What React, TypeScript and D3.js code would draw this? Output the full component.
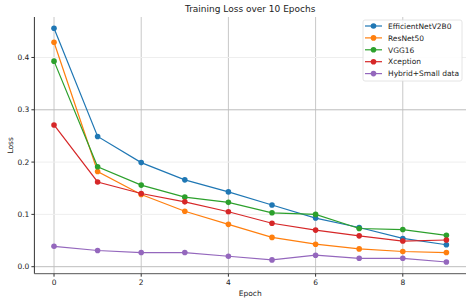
import * as d3 from "d3";
import React, { useEffect, useRef } from "react";

const epochs = [0, 1, 2, 3, 4, 5, 6, 7, 8, 9];
const seriesNames = ["EfficientNetV2B0", "ResNet50", "VGG16", "Xception", "Hybrid+Small data"];
const colors = ["#1f77b4", "#ff7f0e", "#2ca02c", "#d62728", "#9467bd"];
const efficientNet = [0.456, 0.249, 0.199, 0.166, 0.143, 0.118, 0.093, 0.075, 0.054, 0.042];
const resNet = [0.429, 0.182, 0.138, 0.106, 0.081, 0.056, 0.043, 0.034, 0.029, 0.027];
const vgg = [0.393, 0.191, 0.156, 0.133, 0.123, 0.103, 0.1, 0.073, 0.071, 0.06];
const xception = [0.271, 0.162, 0.14, 0.124, 0.105, 0.083, 0.07, 0.059, 0.049, 0.051];
const hybrid = [0.039, 0.031, 0.027, 0.027, 0.02, 0.013, 0.022, 0.016, 0.016, 0.009];
const xTicks = [0, 2, 4, 6, 8];
const yTicks = [0, 0.1, 0.2, 0.3, 0.4];

const App = () => {
  const svgRef = useRef(null);

  useEffect(() => {
    const svg = d3.select(svgRef.current);
    svg.selectAll("*").remove();

    const W = 471;
    const H = 303;
    const left = 34.4;
    const right = 466;
    const top = 17;
    const bottom = 273.7;
    const font = "DejaVu Sans, sans-serif";

    const x = d3.scaleLinear().domain([-0.45, 9.45]).range([left, right]);
    const y = d3.scaleLinear().domain([-0.0134, 0.4774]).range([bottom, top]);

    svg.attr("width", W).attr("height", H).style("background", "#fff");

    // grid
    svg
      .append("g")
      .selectAll("line")
      .data(xTicks)
      .join("line")
      .attr("x1", (d) => x(d))
      .attr("x2", (d) => x(d))
      .attr("y1", top)
      .attr("y2", bottom)
      .attr("stroke", "#c8c8c8")
      .attr("stroke-width", 1);

    svg
      .append("g")
      .selectAll("line")
      .data(yTicks)
      .join("line")
      .attr("x1", left)
      .attr("x2", right)
      .attr("y1", (d) => y(d))
      .attr("y2", (d) => y(d))
      .attr("stroke", (d) => (d === 0 || d === 0.3 ? "#bdbdbd" : "#eeeeee"))
      .attr("stroke-width", 1);

    // spines
    svg
      .append("line")
      .attr("x1", left)
      .attr("x2", left)
      .attr("y1", top)
      .attr("y2", bottom)
      .attr("stroke", "#333")
      .attr("stroke-width", 1);
    svg
      .append("line")
      .attr("x1", left)
      .attr("x2", right)
      .attr("y1", bottom)
      .attr("y2", bottom)
      .attr("stroke", "#555")
      .attr("stroke-width", 1);

    // ticks
    const xt = svg.append("g").selectAll("g").data(xTicks).join("g");
    xt.append("line")
      .attr("x1", (d) => x(d))
      .attr("x2", (d) => x(d))
      .attr("y1", bottom)
      .attr("y2", bottom + 3)
      .attr("stroke", "#333");
    xt.append("text")
      .attr("x", (d) => x(d))
      .attr("y", bottom + 11)
      .attr("text-anchor", "middle")
      .attr("font-family", font)
      .attr("font-size", 7.5)
      .attr("fill", "#222")
      .text((d) => d);

    const yt = svg.append("g").selectAll("g").data(yTicks).join("g");
    yt.append("line")
      .attr("x1", left - 3)
      .attr("x2", left)
      .attr("y1", (d) => y(d))
      .attr("y2", (d) => y(d))
      .attr("stroke", "#333");
    yt.append("text")
      .attr("x", left - 5)
      .attr("y", (d) => y(d) + 2.7)
      .attr("text-anchor", "end")
      .attr("font-family", font)
      .attr("font-size", 7.5)
      .attr("fill", "#222")
      .text((d) => d.toFixed(1));

    // labels
    svg
      .append("text")
      .attr("x", (left + right) / 2)
      .attr("y", 12)
      .attr("text-anchor", "middle")
      .attr("font-family", font)
      .attr("font-size", 9)
      .attr("fill", "#222")
      .text("Training Loss over 10 Epochs");
    svg
      .append("text")
      .attr("x", (left + right) / 2)
      .attr("y", 296)
      .attr("text-anchor", "middle")
      .attr("font-family", font)
      .attr("font-size", 7.5)
      .attr("fill", "#222")
      .text("Epoch");
    svg
      .append("text")
      .attr("transform", `translate(13,${(top + bottom) / 2}) rotate(-90)`)
      .attr("text-anchor", "middle")
      .attr("font-family", font)
      .attr("font-size", 7.5)
      .attr("fill", "#222")
      .text("Loss");

    // series
    const allSeries = [efficientNet, resNet, vgg, xception, hybrid];
    const line = d3
      .line<number>()
      .x((_d, i) => x(epochs[i]))
      .y((d) => y(d));

    allSeries.forEach((vals, k) => {
      const g = svg.append("g");
      g.append("path")
        .attr("d", line(vals))
        .attr("fill", "none")
        .attr("stroke", colors[k])
        .attr("stroke-width", 1.2);
      g.selectAll("circle")
        .data(vals)
        .join("circle")
        .attr("cx", (_d, i) => x(epochs[i]))
        .attr("cy", (d) => y(d))
        .attr("r", 2.8)
        .attr("fill", colors[k]);
    });

    // legend
    const lg = svg.append("g");
    lg.append("rect")
      .attr("x", 363)
      .attr("y", 20)
      .attr("width", 99)
      .attr("height", 61)
      .attr("rx", 2)
      .attr("fill", "rgba(255,255,255,0.85)")
      .attr("stroke", "#dddddd")
      .attr("stroke-width", 0.8);
    seriesNames.forEach((name, k) => {
      const yy = 26 + k * 11.9;
      lg.append("line")
        .attr("x1", 365)
        .attr("x2", 382)
        .attr("y1", yy)
        .attr("y2", yy)
        .attr("stroke", colors[k])
        .attr("stroke-width", 1.2);
      lg.append("circle").attr("cx", 373.5).attr("cy", yy).attr("r", 2.8).attr("fill", colors[k]);
      lg.append("text")
        .attr("x", 388)
        .attr("y", yy + 2.7)
        .attr("font-family", font)
        .attr("font-size", 7.5)
        .attr("fill", "#222")
        .text(name);
    });
  }, []);

  return <svg ref={svgRef} style={{ position: "absolute", left: 0, top: 0 }}></svg>;
};

export default App;
